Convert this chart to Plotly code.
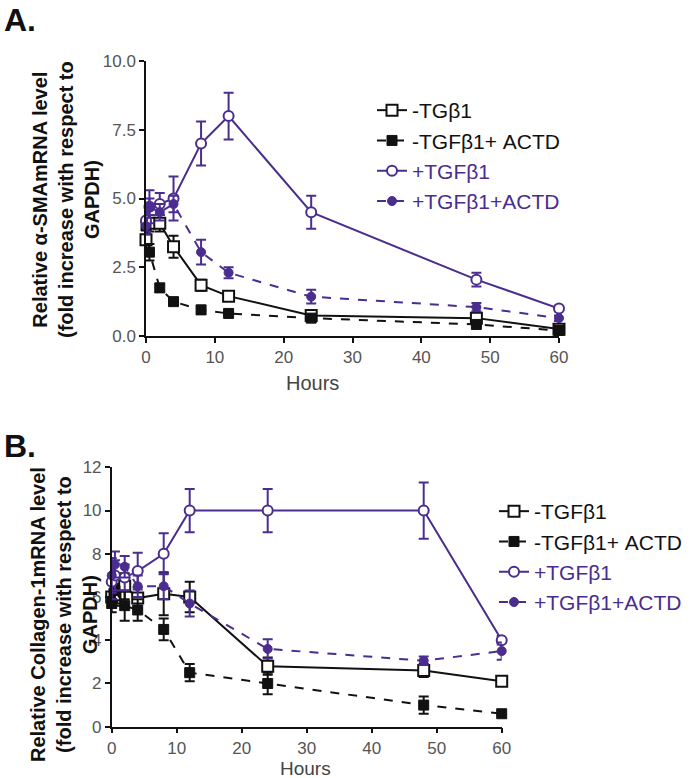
import plotly.graph_objects as go

# ---------------- data ----------------
hours = [0, 0.5, 2, 4, 8, 12, 24, 48, 60]

# Panel A: alpha-SMA mRNA
a_names = ["-TGβ1", "-TGFβ1+ ACTD", "+TGFβ1", "+TGFβ1+ACTD"]
a_neg = [3.5, 4.1, 4.1, 3.25, 1.85, 1.45, 0.75, 0.65, 0.25]
a_neg_err = [0.3, 0.3, 0.3, 0.4, 0.2, 0.15, 0.1, 0.1, 0.05]
a_neg_actd = [4.0, 3.05, 1.75, 1.25, 0.95, 0.82, 0.65, 0.42, 0.2]
a_neg_actd_err = [0.3, 0.3, 0.15, 0.1, 0.15, 0.05, 0.05, 0.05, 0.05]
a_pos = [4.2, 4.7, 4.8, 5.0, 7.0, 8.0, 4.5, 2.05, 1.0]
a_pos_err = [0.4, 0.6, 0.4, 0.8, 0.8, 0.85, 0.6, 0.25, 0.1]
a_pos_actd = [4.0, 4.7, 4.5, 4.8, 3.05, 2.3, 1.43, 1.05, 0.65]
a_pos_actd_err = [0.3, 0.3, 0.3, 0.3, 0.45, 0.2, 0.25, 0.15, 0.1]

# Panel B: Collagen-1 mRNA
b_names = ["-TGFβ1", "-TGFβ1+ ACTD", "+TGFβ1", "+TGFβ1+ACTD"]
b_neg = [6.0, 6.1, 6.5, 5.95, 6.15, 6.0, 2.8, 2.6, 2.1]
b_neg_err = [0.5, 0.5, 0.6, 0.5, 1.0, 0.7, 0.4, 0.3, 0.1]
b_neg_actd = [5.7, 6.3, 5.6, 5.4, 4.5, 2.5, 2.0, 1.0, 0.6]
b_neg_actd_err = [0.4, 0.6, 0.7, 0.5, 0.5, 0.4, 0.5, 0.4, 0.05]
b_pos = [6.7, 7.0, 6.9, 7.2, 8.0, 10.0, 10.0, 10.0, 4.0]
b_pos_err = [0.8, 0.7, 0.6, 0.85, 0.95, 1.0, 1.0, 1.3, 0.2]
b_pos_actd = [7.0, 7.5, 7.4, 6.5, 6.5, 5.7, 3.6, 3.05, 3.5]
b_pos_actd_err = [0.8, 0.6, 0.5, 0.5, 0.6, 0.6, 0.45, 0.2, 0.4]

a_yticks = [0, 2.5, 5, 7.5, 10]
b_yticks = [0, 2, 4, 6, 8, 10, 12]
x_ticks = [0, 10, 20, 30, 40, 50, 60]

# ---------------- styles ----------------
W, H = 693, 778
BLACK = "#111111"
PURPLE = "#4a2d8f"
FONT = "Liberation Sans, Arial, sans-serif"
TICKC = "#555555"

styles = [
    dict(color=BLACK, dash="solid", symbol="square-open", msize=11, fill="white"),
    dict(color=BLACK, dash="dash", symbol="square", msize=10, fill=BLACK),
    dict(color=PURPLE, dash="solid", symbol="circle-open", msize=10, fill="white"),
    dict(color=PURPLE, dash="dash", symbol="circle", msize=9, fill=PURPLE),
]

fig = go.Figure()


def add_series(y, err, name, st, xa, ya, legend, group):
    sym = st["symbol"]
    if sym.endswith("-open"):
        marker = dict(symbol=sym.replace("-open", ""), size=st["msize"], color="white",
                      line=dict(color=st["color"], width=2))
    else:
        marker = dict(symbol=sym, size=st["msize"], color=st["fill"],
                      line=dict(color=st["color"], width=1))
    fig.add_trace(go.Scatter(
        x=hours, y=y, mode="lines+markers", name=name,
        line=dict(color=st["color"], width=2, dash=st["dash"]),
        marker=marker,
        error_y=dict(type="data", array=err, visible=True, color=st["color"],
                     thickness=2, width=5),
        xaxis=xa, yaxis=ya, legend=legend, legendgroup=group,
        cliponaxis=False,
    ))


a_series = [(a_neg, a_neg_err), (a_neg_actd, a_neg_actd_err), (a_pos, a_pos_err), (a_pos_actd, a_pos_actd_err)]
b_series = [(b_neg, b_neg_err), (b_neg_actd, b_neg_actd_err), (b_pos, b_pos_err), (b_pos_actd, b_pos_actd_err)]

for i, ((y, e), nm) in enumerate(zip(a_series, a_names)):
    col = styles[i]["color"]
    add_series(y, e, f'<span style="color:{col}">{nm}</span>', styles[i], "x", "y", "legend", f"a{i}")
for i, ((y, e), nm) in enumerate(zip(b_series, b_names)):
    col = styles[i]["color"]
    add_series(y, e, f'<span style="color:{col}">{nm}</span>', styles[i], "x2", "y2", "legend2", f"b{i}")


def px_x(p):
    return p / W


def px_y(p):
    return (H - p) / H

axis_common = dict(showline=True, linecolor=BLACK, linewidth=1.5, ticks="outside",
                   ticklen=5, tickwidth=1.5, tickcolor=BLACK, showgrid=False, zeroline=False,
                   automargin=False,
                   tickfont=dict(family=FONT, size=17, color=TICKC))

fig.update_layout(
    width=W, height=H,
    margin=dict(l=0, r=0, t=0, b=0, autoexpand=False),
    paper_bgcolor="white", plot_bgcolor="white",
    font=dict(family=FONT, color=BLACK),
    xaxis=dict(domain=[px_x(146), px_x(559)], range=[0, 60], tickvals=x_ticks,
               anchor="y", **axis_common),
    yaxis=dict(domain=[px_y(336), px_y(61)], range=[0, 10], tickvals=a_yticks,
               tickformat=".1f", anchor="x", **axis_common),
    xaxis2=dict(domain=[px_x(111.7), px_x(501.7)], range=[0, 60], tickvals=x_ticks,
                anchor="y2", **axis_common),
    yaxis2=dict(domain=[px_y(726.7), px_y(467.3)], range=[0, 12], tickvals=b_yticks,
                anchor="x2", **axis_common),
    legend=dict(x=px_x(372), y=px_y(90), xanchor="left", yanchor="top",
                font=dict(family=FONT, size=21), bgcolor="rgba(0,0,0,0)",
                tracegroupgap=0, itemwidth=30),
    legend2=dict(x=px_x(494), y=px_y(491), xanchor="left", yanchor="top",
                 font=dict(family=FONT, size=21), bgcolor="rgba(0,0,0,0)",
                 tracegroupgap=0, itemwidth=30),
    showlegend=True,
)

annots = [
    dict(text="<b>A.</b>", x=px_x(2), y=px_y(0), xanchor="left", yanchor="top",
         font=dict(size=32, family=FONT, color=BLACK)),
    dict(text="<b>B.</b>", x=px_x(2), y=px_y(426), xanchor="left", yanchor="top",
         font=dict(size=32, family=FONT, color=BLACK)),
    dict(text="<b>Relative α-SMAmRNA level<br>(fold increase with respect to<br>GAPDH)</b>",
         x=px_x(66), y=px_y(200), textangle=-90, xanchor="center", yanchor="middle",
         font=dict(size=20, family=FONT, color=BLACK)),
    dict(text="<b>Relative Collagen-1mRNA level<br>(fold increase with respect to<br>GAPDH)</b>",
         x=px_x(64), y=px_y(615), textangle=-90, xanchor="center", yanchor="middle",
         font=dict(size=20, family=FONT, color=BLACK)),
    dict(text="Hours", x=px_x(312), y=px_y(383), xanchor="center", yanchor="middle",
         font=dict(size=20, family=FONT, color="#444444")),
    dict(text="Hours", x=px_x(305), y=px_y(768), xanchor="center", yanchor="middle",
         font=dict(size=19, family=FONT, color="#444444")),
]
for a in annots:
    a.update(xref="paper", yref="paper", showarrow=False)
fig.update_layout(annotations=annots)

fig.write_html("out.html",
               config={"displayModeBar": False},
               post_script="document.body.style.margin='0px';document.body.style.overflow='hidden';")
